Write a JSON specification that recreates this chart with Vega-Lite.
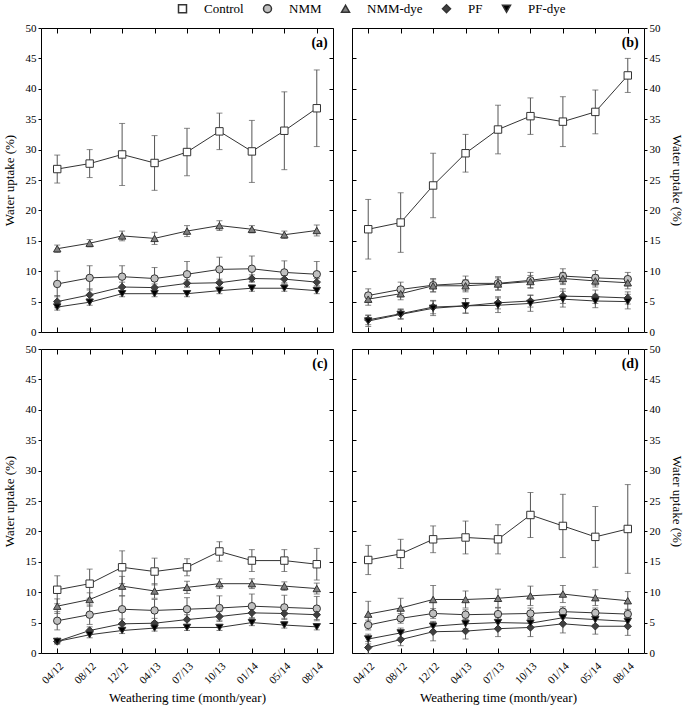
{
  "$schema": "https://vega.github.io/schema/vega-lite/v6.json",
  "padding": {"left": 2, "top": 2, "right": 2, "bottom": 2},
  "background": "#ffffff",
  "data": {"values": [
    {"p":"a","s":"Control","t":"04/12","v":26.8,"e":2.3},{"p":"a","s":"Control","t":"08/12","v":27.7,"e":2.3},{"p":"a","s":"Control","t":"12/12","v":29.2,"e":5.1},{"p":"a","s":"Control","t":"04/13","v":27.8,"e":4.5},{"p":"a","s":"Control","t":"07/13","v":29.6,"e":3.9},{"p":"a","s":"Control","t":"10/13","v":33.0,"e":3.0},{"p":"a","s":"Control","t":"01/14","v":29.7,"e":5.1},{"p":"a","s":"Control","t":"05/14","v":33.1,"e":6.4},{"p":"a","s":"Control","t":"08/14","v":36.8,"e":6.3},
    {"p":"a","s":"NMM","t":"04/12","v":7.9,"e":2.1},{"p":"a","s":"NMM","t":"08/12","v":8.9,"e":2.0},{"p":"a","s":"NMM","t":"12/12","v":9.1,"e":1.8},{"p":"a","s":"NMM","t":"04/13","v":8.8,"e":1.8},{"p":"a","s":"NMM","t":"07/13","v":9.5,"e":2.1},{"p":"a","s":"NMM","t":"10/13","v":10.3,"e":2.0},{"p":"a","s":"NMM","t":"01/14","v":10.4,"e":2.1},{"p":"a","s":"NMM","t":"05/14","v":9.8,"e":1.9},{"p":"a","s":"NMM","t":"08/14","v":9.5,"e":2.1},
    {"p":"a","s":"NMM-dye","t":"04/12","v":13.7,"e":0.6},{"p":"a","s":"NMM-dye","t":"08/12","v":14.6,"e":0.6},{"p":"a","s":"NMM-dye","t":"12/12","v":15.8,"e":0.8},{"p":"a","s":"NMM-dye","t":"04/13","v":15.4,"e":1.0},{"p":"a","s":"NMM-dye","t":"07/13","v":16.6,"e":0.9},{"p":"a","s":"NMM-dye","t":"10/13","v":17.5,"e":0.8},{"p":"a","s":"NMM-dye","t":"01/14","v":16.9,"e":0.6},{"p":"a","s":"NMM-dye","t":"05/14","v":16.0,"e":0.6},{"p":"a","s":"NMM-dye","t":"08/14","v":16.7,"e":0.9},
    {"p":"a","s":"PF","t":"04/12","v":5.0,"e":1.0},{"p":"a","s":"PF","t":"08/12","v":6.1,"e":1.0},{"p":"a","s":"PF","t":"12/12","v":7.4,"e":0.8},{"p":"a","s":"PF","t":"04/13","v":7.3,"e":0.6},{"p":"a","s":"PF","t":"07/13","v":8.0,"e":0.6},{"p":"a","s":"PF","t":"10/13","v":8.1,"e":0.6},{"p":"a","s":"PF","t":"01/14","v":8.8,"e":0.6},{"p":"a","s":"PF","t":"05/14","v":8.7,"e":0.6},{"p":"a","s":"PF","t":"08/14","v":8.2,"e":0.6},
    {"p":"a","s":"PF-dye","t":"04/12","v":4.1,"e":0.5},{"p":"a","s":"PF-dye","t":"08/12","v":4.9,"e":0.5},{"p":"a","s":"PF-dye","t":"12/12","v":6.3,"e":0.5},{"p":"a","s":"PF-dye","t":"04/13","v":6.3,"e":0.5},{"p":"a","s":"PF-dye","t":"07/13","v":6.3,"e":0.5},{"p":"a","s":"PF-dye","t":"10/13","v":6.8,"e":0.5},{"p":"a","s":"PF-dye","t":"01/14","v":7.2,"e":0.5},{"p":"a","s":"PF-dye","t":"05/14","v":7.2,"e":0.5},{"p":"a","s":"PF-dye","t":"08/14","v":6.8,"e":0.5},

    {"p":"b","s":"Control","t":"04/12","v":16.9,"e":4.9},{"p":"b","s":"Control","t":"08/12","v":18.0,"e":4.9},{"p":"b","s":"Control","t":"12/12","v":24.1,"e":5.3},{"p":"b","s":"Control","t":"04/13","v":29.4,"e":3.1},{"p":"b","s":"Control","t":"07/13","v":33.3,"e":4.0},{"p":"b","s":"Control","t":"10/13","v":35.5,"e":3.0},{"p":"b","s":"Control","t":"01/14","v":34.6,"e":4.1},{"p":"b","s":"Control","t":"05/14","v":36.2,"e":3.6},{"p":"b","s":"Control","t":"08/14","v":42.2,"e":2.8},
    {"p":"b","s":"NMM","t":"04/12","v":6.0,"e":1.1},{"p":"b","s":"NMM","t":"08/12","v":7.0,"e":1.2},{"p":"b","s":"NMM","t":"12/12","v":7.7,"e":1.1},{"p":"b","s":"NMM","t":"04/13","v":8.0,"e":1.2},{"p":"b","s":"NMM","t":"07/13","v":8.0,"e":1.1},{"p":"b","s":"NMM","t":"10/13","v":8.5,"e":1.3},{"p":"b","s":"NMM","t":"01/14","v":9.2,"e":1.2},{"p":"b","s":"NMM","t":"05/14","v":8.9,"e":1.2},{"p":"b","s":"NMM","t":"08/14","v":8.7,"e":1.1},
    {"p":"b","s":"NMM-dye","t":"04/12","v":5.4,"e":1.0},{"p":"b","s":"NMM-dye","t":"08/12","v":6.3,"e":1.0},{"p":"b","s":"NMM-dye","t":"12/12","v":7.6,"e":1.0},{"p":"b","s":"NMM-dye","t":"04/13","v":7.6,"e":1.0},{"p":"b","s":"NMM-dye","t":"07/13","v":7.9,"e":1.0},{"p":"b","s":"NMM-dye","t":"10/13","v":8.3,"e":1.0},{"p":"b","s":"NMM-dye","t":"01/14","v":8.8,"e":1.0},{"p":"b","s":"NMM-dye","t":"05/14","v":8.4,"e":1.0},{"p":"b","s":"NMM-dye","t":"08/14","v":8.1,"e":1.0},
    {"p":"b","s":"PF","t":"04/12","v":2.0,"e":0.8},{"p":"b","s":"PF","t":"08/12","v":3.0,"e":0.8},{"p":"b","s":"PF","t":"12/12","v":4.1,"e":1.1},{"p":"b","s":"PF","t":"04/13","v":4.3,"e":1.2},{"p":"b","s":"PF","t":"07/13","v":4.8,"e":1.0},{"p":"b","s":"PF","t":"10/13","v":5.1,"e":1.0},{"p":"b","s":"PF","t":"01/14","v":5.9,"e":1.2},{"p":"b","s":"PF","t":"05/14","v":5.8,"e":1.1},{"p":"b","s":"PF","t":"08/14","v":5.6,"e":1.0},
    {"p":"b","s":"PF-dye","t":"04/12","v":1.8,"e":0.9},{"p":"b","s":"PF-dye","t":"08/12","v":2.9,"e":0.8},{"p":"b","s":"PF-dye","t":"12/12","v":3.9,"e":1.2},{"p":"b","s":"PF-dye","t":"04/13","v":4.3,"e":1.2},{"p":"b","s":"PF-dye","t":"07/13","v":4.4,"e":1.2},{"p":"b","s":"PF-dye","t":"10/13","v":4.7,"e":1.3},{"p":"b","s":"PF-dye","t":"01/14","v":5.4,"e":1.3},{"p":"b","s":"PF-dye","t":"05/14","v":5.1,"e":1.1},{"p":"b","s":"PF-dye","t":"08/14","v":5.0,"e":1.2},

    {"p":"c","s":"Control","t":"04/12","v":10.4,"e":2.3},{"p":"c","s":"Control","t":"08/12","v":11.4,"e":2.4},{"p":"c","s":"Control","t":"12/12","v":14.1,"e":2.7},{"p":"c","s":"Control","t":"04/13","v":13.4,"e":2.2},{"p":"c","s":"Control","t":"07/13","v":14.1,"e":1.4},{"p":"c","s":"Control","t":"10/13","v":16.7,"e":1.6},{"p":"c","s":"Control","t":"01/14","v":15.2,"e":1.8},{"p":"c","s":"Control","t":"05/14","v":15.2,"e":1.8},{"p":"c","s":"Control","t":"08/14","v":14.6,"e":2.6},
    {"p":"c","s":"NMM","t":"04/12","v":5.3,"e":1.5},{"p":"c","s":"NMM","t":"08/12","v":6.3,"e":1.6},{"p":"c","s":"NMM","t":"12/12","v":7.2,"e":2.2},{"p":"c","s":"NMM","t":"04/13","v":7.0,"e":1.8},{"p":"c","s":"NMM","t":"07/13","v":7.2,"e":1.9},{"p":"c","s":"NMM","t":"10/13","v":7.4,"e":2.0},{"p":"c","s":"NMM","t":"01/14","v":7.7,"e":2.0},{"p":"c","s":"NMM","t":"05/14","v":7.5,"e":2.0},{"p":"c","s":"NMM","t":"08/14","v":7.3,"e":2.0},
    {"p":"c","s":"NMM-dye","t":"04/12","v":7.7,"e":1.2},{"p":"c","s":"NMM-dye","t":"08/12","v":8.8,"e":1.1},{"p":"c","s":"NMM-dye","t":"12/12","v":11.0,"e":1.6},{"p":"c","s":"NMM-dye","t":"04/13","v":10.2,"e":1.2},{"p":"c","s":"NMM-dye","t":"07/13","v":10.8,"e":1.0},{"p":"c","s":"NMM-dye","t":"10/13","v":11.4,"e":0.8},{"p":"c","s":"NMM-dye","t":"01/14","v":11.4,"e":0.8},{"p":"c","s":"NMM-dye","t":"05/14","v":11.0,"e":0.7},{"p":"c","s":"NMM-dye","t":"08/14","v":10.6,"e":0.9},
    {"p":"c","s":"PF","t":"04/12","v":1.9,"e":0.4},{"p":"c","s":"PF","t":"08/12","v":3.7,"e":0.6},{"p":"c","s":"PF","t":"12/12","v":4.8,"e":0.8},{"p":"c","s":"PF","t":"04/13","v":4.9,"e":0.8},{"p":"c","s":"PF","t":"07/13","v":5.5,"e":0.8},{"p":"c","s":"PF","t":"10/13","v":6.0,"e":0.8},{"p":"c","s":"PF","t":"01/14","v":6.6,"e":0.8},{"p":"c","s":"PF","t":"05/14","v":6.5,"e":0.8},{"p":"c","s":"PF","t":"08/14","v":6.3,"e":0.8},
    {"p":"c","s":"PF-dye","t":"04/12","v":1.9,"e":0.4},{"p":"c","s":"PF-dye","t":"08/12","v":3.0,"e":0.5},{"p":"c","s":"PF-dye","t":"12/12","v":3.7,"e":0.5},{"p":"c","s":"PF-dye","t":"04/13","v":4.1,"e":0.5},{"p":"c","s":"PF-dye","t":"07/13","v":4.2,"e":0.5},{"p":"c","s":"PF-dye","t":"10/13","v":4.2,"e":0.5},{"p":"c","s":"PF-dye","t":"01/14","v":5.0,"e":0.5},{"p":"c","s":"PF-dye","t":"05/14","v":4.6,"e":0.5},{"p":"c","s":"PF-dye","t":"08/14","v":4.3,"e":0.5},

    {"p":"d","s":"Control","t":"04/12","v":15.3,"e":2.4},{"p":"d","s":"Control","t":"08/12","v":16.3,"e":2.4},{"p":"d","s":"Control","t":"12/12","v":18.7,"e":2.2},{"p":"d","s":"Control","t":"04/13","v":19.0,"e":2.7},{"p":"d","s":"Control","t":"07/13","v":18.7,"e":2.4},{"p":"d","s":"Control","t":"10/13","v":22.7,"e":3.7},{"p":"d","s":"Control","t":"01/14","v":20.9,"e":5.2},{"p":"d","s":"Control","t":"05/14","v":19.1,"e":5.0},{"p":"d","s":"Control","t":"08/14","v":20.4,"e":7.3},
    {"p":"d","s":"NMM","t":"04/12","v":4.6,"e":0.8},{"p":"d","s":"NMM","t":"08/12","v":5.7,"e":0.8},{"p":"d","s":"NMM","t":"12/12","v":6.5,"e":0.8},{"p":"d","s":"NMM","t":"04/13","v":6.3,"e":0.8},{"p":"d","s":"NMM","t":"07/13","v":6.4,"e":1.0},{"p":"d","s":"NMM","t":"10/13","v":6.5,"e":0.9},{"p":"d","s":"NMM","t":"01/14","v":6.8,"e":0.8},{"p":"d","s":"NMM","t":"05/14","v":6.6,"e":0.8},{"p":"d","s":"NMM","t":"08/14","v":6.4,"e":0.8},
    {"p":"d","s":"NMM-dye","t":"04/12","v":6.4,"e":2.1},{"p":"d","s":"NMM-dye","t":"08/12","v":7.4,"e":1.6},{"p":"d","s":"NMM-dye","t":"12/12","v":8.8,"e":2.3},{"p":"d","s":"NMM-dye","t":"04/13","v":8.8,"e":1.4},{"p":"d","s":"NMM-dye","t":"07/13","v":9.0,"e":1.5},{"p":"d","s":"NMM-dye","t":"10/13","v":9.4,"e":1.6},{"p":"d","s":"NMM-dye","t":"01/14","v":9.7,"e":1.4},{"p":"d","s":"NMM-dye","t":"05/14","v":9.1,"e":1.3},{"p":"d","s":"NMM-dye","t":"08/14","v":8.6,"e":1.5},
    {"p":"d","s":"PF","t":"04/12","v":0.9,"e":1.0},{"p":"d","s":"PF","t":"08/12","v":2.2,"e":1.0},{"p":"d","s":"PF","t":"12/12","v":3.5,"e":1.5},{"p":"d","s":"PF","t":"04/13","v":3.6,"e":1.3},{"p":"d","s":"PF","t":"07/13","v":4.0,"e":1.3},{"p":"d","s":"PF","t":"10/13","v":4.2,"e":1.5},{"p":"d","s":"PF","t":"01/14","v":4.8,"e":1.5},{"p":"d","s":"PF","t":"05/14","v":4.4,"e":1.3},{"p":"d","s":"PF","t":"08/14","v":4.4,"e":1.5},
    {"p":"d","s":"PF-dye","t":"04/12","v":2.3,"e":0.8},{"p":"d","s":"PF-dye","t":"08/12","v":3.3,"e":0.8},{"p":"d","s":"PF-dye","t":"12/12","v":4.4,"e":0.8},{"p":"d","s":"PF-dye","t":"04/13","v":4.8,"e":0.8},{"p":"d","s":"PF-dye","t":"07/13","v":5.0,"e":0.8},{"p":"d","s":"PF-dye","t":"10/13","v":4.9,"e":0.9},{"p":"d","s":"PF-dye","t":"01/14","v":5.8,"e":0.8},{"p":"d","s":"PF-dye","t":"05/14","v":5.5,"e":0.8},{"p":"d","s":"PF-dye","t":"08/14","v":5.2,"e":0.8}
  ]},
  "vconcat": [
    {"hconcat": [
      {"width": 292, "height": 304,
       "layer": [
        {"transform": [{"filter": "datum.p == 'a'"}],
         "encoding": {
           "x": {"field": "t", "type": "ordinal", "scale": {"type": "point", "domain": ["04/12","08/12","12/12","04/13","07/13","10/13","01/14","05/14","08/14"], "padding": 0.5}, "axis": {"orient": "bottom", "labels": false, "tickSize": -5, "title": null}},
           "y": {"field": "v", "type": "quantitative", "scale": {"domain": [0, 50], "nice": false}, "axis": {"orient": "left", "values": [0,5,10,15,20,25,30,35,40,45,50], "tickSize": 3, "labelPadding": 2, "title": "Water uptake (%)", "titlePadding": 9}}
         },
         "layer": [
          {"mark": {"type": "errorbar", "ticks": {"size": 6}, "color": "#555555", "thickness": 1}, "encoding": {"yError": {"field": "e"}}},
          {"mark": {"type": "line", "color": "#333333", "strokeWidth": 1}, "encoding": {"detail": {"field": "s"}, "order": {"value": null}}},
          {"mark": {"type": "point", "filled": true, "size": 55, "stroke": "#333333", "strokeWidth": 1, "opacity": 1},
           "encoding": {
             "shape": {"field": "s", "type": "nominal", "scale": {"domain": ["Control","NMM","NMM-dye","PF","PF-dye"], "range": ["square","circle","triangle-up","diamond","triangle-down"]}, "legend": {"orient": "none", "legendX": 126, "legendY": -26, "direction": "horizontal", "title": null, "columnPadding": 8, "symbolSize": 64, "symbolOffset": 9, "labelOffset": 15, "labelFontSize": 13}},
             "fill": {"field": "s", "type": "nominal", "scale": {"domain": ["Control","NMM","NMM-dye","PF","PF-dye"], "range": ["#ffffff","#c0c0c0","#808080","#404040","#000000"]}, "legend": null}
           }}
         ]},
        {"data": {"values": [{"lab": "(a)"}]}, "mark": {"type": "text", "align": "right", "dx": 11, "font": "Liberation Serif", "fontSize": 14, "fontWeight": "bold", "color": "#000000"},
         "encoding": {"text": {"field": "lab"}, "x": {"datum": "08/14", "type": "ordinal", "axis": null}, "y": {"datum": 47.6, "type": "quantitative", "axis": null}}},
        {"transform": [{"filter": "datum.p == 'a'"}], "mark": {"type": "point", "opacity": 0},
         "encoding": {
           "x": {"field": "t", "type": "ordinal", "axis": {"orient": "top", "labels": false, "tickSize": -5, "title": null}},
           "y": {"field": "v", "type": "quantitative", "axis": {"orient": "right", "values": [0,5,10,15,20,25,30,35,40,45,50], "labels": false, "tickSize": -4, "title": null}}
         }}
       ],
       "resolve": {"axis": {"x": "independent", "y": "independent"}}
      },
      {"width": 292, "height": 304,
       "layer": [
        {"transform": [{"filter": "datum.p == 'b'"}],
         "encoding": {
           "x": {"field": "t", "type": "ordinal", "scale": {"type": "point", "domain": ["04/12","08/12","12/12","04/13","07/13","10/13","01/14","05/14","08/14"], "padding": 0.5}, "axis": {"orient": "bottom", "labels": false, "tickSize": -5, "title": null}},
           "y": {"field": "v", "type": "quantitative", "scale": {"domain": [0, 50], "nice": false}, "axis": {"orient": "left", "values": [0,5,10,15,20,25,30,35,40,45,50], "labels": false, "tickSize": -4, "title": null}}
         },
         "layer": [
          {"mark": {"type": "errorbar", "ticks": {"size": 6}, "color": "#555555", "thickness": 1}, "encoding": {"yError": {"field": "e"}}},
          {"mark": {"type": "line", "color": "#333333", "strokeWidth": 1}, "encoding": {"detail": {"field": "s"}, "order": {"value": null}}},
          {"mark": {"type": "point", "filled": true, "size": 55, "stroke": "#333333", "strokeWidth": 1, "opacity": 1},
           "encoding": {
             "shape": {"field": "s", "type": "nominal", "scale": {"domain": ["Control","NMM","NMM-dye","PF","PF-dye"], "range": ["square","circle","triangle-up","diamond","triangle-down"]}, "legend": null},
             "fill": {"field": "s", "type": "nominal", "scale": {"domain": ["Control","NMM","NMM-dye","PF","PF-dye"], "range": ["#ffffff","#c0c0c0","#808080","#404040","#000000"]}, "legend": null}
           }}
         ]},
        {"data": {"values": [{"lab": "(b)"}]}, "mark": {"type": "text", "align": "right", "dx": 11, "font": "Liberation Serif", "fontSize": 14, "fontWeight": "bold", "color": "#000000"},
         "encoding": {"text": {"field": "lab"}, "x": {"datum": "08/14", "type": "ordinal", "axis": null}, "y": {"datum": 47.6, "type": "quantitative", "axis": null}}},
        {"transform": [{"filter": "datum.p == 'b'"}], "mark": {"type": "point", "opacity": 0},
         "encoding": {
           "x": {"field": "t", "type": "ordinal", "axis": {"orient": "top", "labels": false, "tickSize": -5, "title": null}},
           "y": {"field": "v", "type": "quantitative", "axis": {"orient": "right", "values": [0,5,10,15,20,25,30,35,40,45,50], "tickSize": 3, "labelPadding": 2, "title": "Water uptake (%)", "titleAngle": 90, "titlePadding": 9}}
         }}
       ],
       "resolve": {"axis": {"x": "independent", "y": "independent"}}
      }
    ], "spacing": 19, "bounds": "flush"},
    {"hconcat": [
      {"width": 292, "height": 304,
       "layer": [
        {"transform": [{"filter": "datum.p == 'c'"}],
         "encoding": {
           "x": {"field": "t", "type": "ordinal", "scale": {"type": "point", "domain": ["04/12","08/12","12/12","04/13","07/13","10/13","01/14","05/14","08/14"], "padding": 0.5}, "axis": {"orient": "bottom", "tickSize": -5, "labelAngle": -45, "labelPadding": 12, "title": "Weathering time (month/year)", "titlePadding": 6}},
           "y": {"field": "v", "type": "quantitative", "scale": {"domain": [0, 50], "nice": false}, "axis": {"orient": "left", "values": [0,5,10,15,20,25,30,35,40,45,50], "tickSize": 3, "labelPadding": 2, "title": "Water uptake (%)", "titlePadding": 9}}
         },
         "layer": [
          {"mark": {"type": "errorbar", "ticks": {"size": 6}, "color": "#555555", "thickness": 1}, "encoding": {"yError": {"field": "e"}}},
          {"mark": {"type": "line", "color": "#333333", "strokeWidth": 1}, "encoding": {"detail": {"field": "s"}, "order": {"value": null}}},
          {"mark": {"type": "point", "filled": true, "size": 55, "stroke": "#333333", "strokeWidth": 1, "opacity": 1},
           "encoding": {
             "shape": {"field": "s", "type": "nominal", "scale": {"domain": ["Control","NMM","NMM-dye","PF","PF-dye"], "range": ["square","circle","triangle-up","diamond","triangle-down"]}, "legend": null},
             "fill": {"field": "s", "type": "nominal", "scale": {"domain": ["Control","NMM","NMM-dye","PF","PF-dye"], "range": ["#ffffff","#c0c0c0","#808080","#404040","#000000"]}, "legend": null}
           }}
         ]},
        {"data": {"values": [{"lab": "(c)"}]}, "mark": {"type": "text", "align": "right", "dx": 11, "font": "Liberation Serif", "fontSize": 14, "fontWeight": "bold", "color": "#000000"},
         "encoding": {"text": {"field": "lab"}, "x": {"datum": "08/14", "type": "ordinal", "axis": null}, "y": {"datum": 47.6, "type": "quantitative", "axis": null}}},
        {"transform": [{"filter": "datum.p == 'c'"}], "mark": {"type": "point", "opacity": 0},
         "encoding": {
           "x": {"field": "t", "type": "ordinal", "axis": {"orient": "top", "labels": false, "tickSize": -5, "title": null}},
           "y": {"field": "v", "type": "quantitative", "axis": {"orient": "right", "values": [0,5,10,15,20,25,30,35,40,45,50], "labels": false, "tickSize": -4, "title": null}}
         }}
       ],
       "resolve": {"axis": {"x": "independent", "y": "independent"}}
      },
      {"width": 292, "height": 304,
       "layer": [
        {"transform": [{"filter": "datum.p == 'd'"}],
         "encoding": {
           "x": {"field": "t", "type": "ordinal", "scale": {"type": "point", "domain": ["04/12","08/12","12/12","04/13","07/13","10/13","01/14","05/14","08/14"], "padding": 0.5}, "axis": {"orient": "bottom", "tickSize": -5, "labelAngle": -45, "labelPadding": 12, "title": "Weathering time (month/year)", "titlePadding": 6}},
           "y": {"field": "v", "type": "quantitative", "scale": {"domain": [0, 50], "nice": false}, "axis": {"orient": "left", "values": [0,5,10,15,20,25,30,35,40,45,50], "labels": false, "tickSize": -4, "title": null}}
         },
         "layer": [
          {"mark": {"type": "errorbar", "ticks": {"size": 6}, "color": "#555555", "thickness": 1}, "encoding": {"yError": {"field": "e"}}},
          {"mark": {"type": "line", "color": "#333333", "strokeWidth": 1}, "encoding": {"detail": {"field": "s"}, "order": {"value": null}}},
          {"mark": {"type": "point", "filled": true, "size": 55, "stroke": "#333333", "strokeWidth": 1, "opacity": 1},
           "encoding": {
             "shape": {"field": "s", "type": "nominal", "scale": {"domain": ["Control","NMM","NMM-dye","PF","PF-dye"], "range": ["square","circle","triangle-up","diamond","triangle-down"]}, "legend": null},
             "fill": {"field": "s", "type": "nominal", "scale": {"domain": ["Control","NMM","NMM-dye","PF","PF-dye"], "range": ["#ffffff","#c0c0c0","#808080","#404040","#000000"]}, "legend": null}
           }}
         ]},
        {"data": {"values": [{"lab": "(d)"}]}, "mark": {"type": "text", "align": "right", "dx": 11, "font": "Liberation Serif", "fontSize": 14, "fontWeight": "bold", "color": "#000000"},
         "encoding": {"text": {"field": "lab"}, "x": {"datum": "08/14", "type": "ordinal", "axis": null}, "y": {"datum": 47.6, "type": "quantitative", "axis": null}}},
        {"transform": [{"filter": "datum.p == 'd'"}], "mark": {"type": "point", "opacity": 0},
         "encoding": {
           "x": {"field": "t", "type": "ordinal", "axis": {"orient": "top", "labels": false, "tickSize": -5, "title": null}},
           "y": {"field": "v", "type": "quantitative", "axis": {"orient": "right", "values": [0,5,10,15,20,25,30,35,40,45,50], "tickSize": 3, "labelPadding": 2, "title": "Water uptake (%)", "titleAngle": 90, "titlePadding": 9}}
         }}
       ],
       "resolve": {"axis": {"x": "independent", "y": "independent"}}
      }
    ], "spacing": 19, "bounds": "flush"}
  ],
  "spacing": 4,
  "config": {
    "font": "Liberation Serif",
    "view": {"stroke": "#000000", "strokeWidth": 1},
    "axis": {"domain": false, "grid": false, "tickColor": "#000000", "labelColor": "#000000", "titleColor": "#000000", "labelFont": "Liberation Serif", "titleFont": "Liberation Serif", "labelFontSize": 11, "titleFontSize": 13, "titleFontWeight": "normal"},
    "legend": {"labelFont": "Liberation Serif", "labelColor": "#000000"}
  }
}
